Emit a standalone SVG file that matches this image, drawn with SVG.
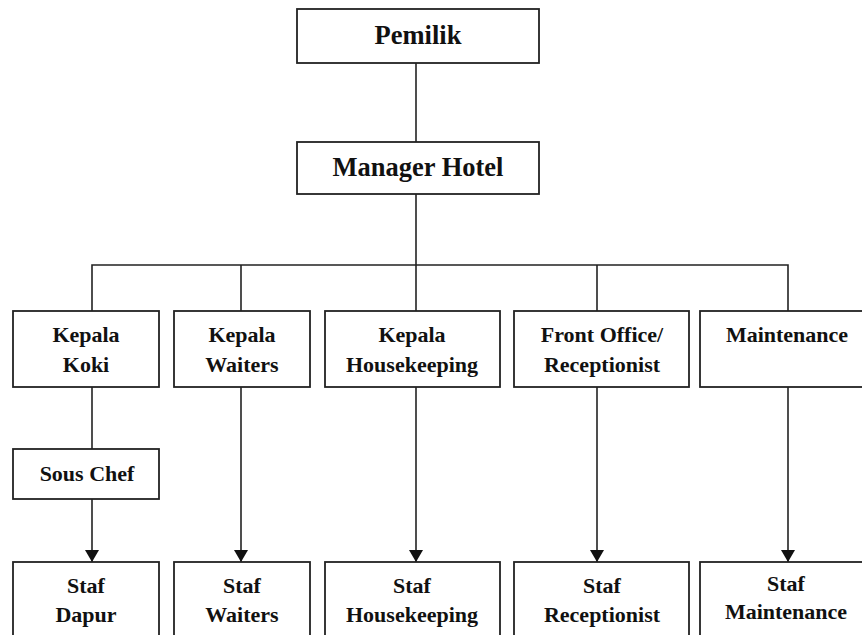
<svg xmlns="http://www.w3.org/2000/svg" width="862" height="635" viewBox="0 0 862 635">
<defs>
<style>
.box{fill:#fff;stroke:#222;stroke-width:1.8}
.ln{fill:none;stroke:#222;stroke-width:1.6}
text{font-family:"Liberation Serif","Times New Roman",serif;font-weight:bold;fill:#111;text-anchor:middle}
.big{font-size:26.5px}
.sm{font-size:22px}
</style>
<marker id="ah" markerWidth="12" markerHeight="14" refX="12" refY="7" orient="auto" markerUnits="userSpaceOnUse">
<path d="M0,0 L12,7 L0,14 Z" fill="#111"/>
</marker>
</defs>
<g id="connectors">
<line class="ln" x1="416" y1="63" x2="416" y2="142"/>
<line class="ln" x1="416" y1="194" x2="416" y2="265"/>
<polyline class="ln" points="92,311 92,265 788,265 788,311"/>
<line class="ln" x1="241" y1="265" x2="241" y2="311"/>
<line class="ln" x1="416" y1="265" x2="416" y2="311"/>
<line class="ln" x1="597" y1="265" x2="597" y2="311"/>
<line class="ln" x1="92" y1="387" x2="92" y2="449"/>
<line class="ln" x1="92" y1="499" x2="92" y2="562" marker-end="url(#ah)"/>
<line class="ln" x1="241" y1="387" x2="241" y2="562" marker-end="url(#ah)"/>
<line class="ln" x1="416" y1="387" x2="416" y2="562" marker-end="url(#ah)"/>
<line class="ln" x1="597" y1="387" x2="597" y2="562" marker-end="url(#ah)"/>
<line class="ln" x1="788" y1="387" x2="788" y2="562" marker-end="url(#ah)"/>
</g>
<g id="pemilik"><rect class="box" x="297" y="9" width="242" height="54"/><text class="big" x="418" y="44">Pemilik</text></g>
<g id="manager"><rect class="box" x="297" y="142" width="242" height="52"/><text class="big" x="418" y="176">Manager Hotel</text></g>
<g id="kepala-koki"><rect class="box" x="13" y="311" width="146" height="76"/><text class="sm" x="86" y="342">Kepala</text><text class="sm" x="86" y="372">Koki</text></g>
<g id="kepala-waiters"><rect class="box" x="174" y="311" width="136" height="76"/><text class="sm" x="242" y="342">Kepala</text><text class="sm" x="242" y="372">Waiters</text></g>
<g id="kepala-housekeeping"><rect class="box" x="325" y="311" width="175" height="76"/><text class="sm" x="412" y="342">Kepala</text><text class="sm" x="412" y="372">Housekeeping</text></g>
<g id="front-office"><rect class="box" x="514" y="311" width="175" height="76"/><text class="sm" x="602" y="342">Front Office/</text><text class="sm" x="602" y="372">Receptionist</text></g>
<g id="maintenance"><rect class="box" x="700" y="311" width="175" height="76"/><text class="sm" x="787" y="342">Maintenance</text></g>
<g id="sous-chef"><rect class="box" x="13" y="449" width="146" height="50"/><text class="sm" x="87" y="481">Sous Chef</text></g>
<g id="staf-dapur"><rect class="box" x="13" y="562" width="146" height="90"/><text class="sm" x="86" y="593">Staf</text><text class="sm" x="86" y="622">Dapur</text></g>
<g id="staf-waiters"><rect class="box" x="174" y="562" width="136" height="90"/><text class="sm" x="242" y="593">Staf</text><text class="sm" x="242" y="622">Waiters</text></g>
<g id="staf-housekeeping"><rect class="box" x="325" y="562" width="175" height="90"/><text class="sm" x="412" y="593">Staf</text><text class="sm" x="412" y="622">Housekeeping</text></g>
<g id="staf-receptionist"><rect class="box" x="514" y="562" width="175" height="90"/><text class="sm" x="602" y="593">Staf</text><text class="sm" x="602" y="622">Receptionist</text></g>
<g id="staf-maintenance"><rect class="box" x="700" y="562" width="175" height="90"/><text class="sm" x="786" y="591">Staf</text><text class="sm" x="786" y="619">Maintenance</text></g>
</svg>
